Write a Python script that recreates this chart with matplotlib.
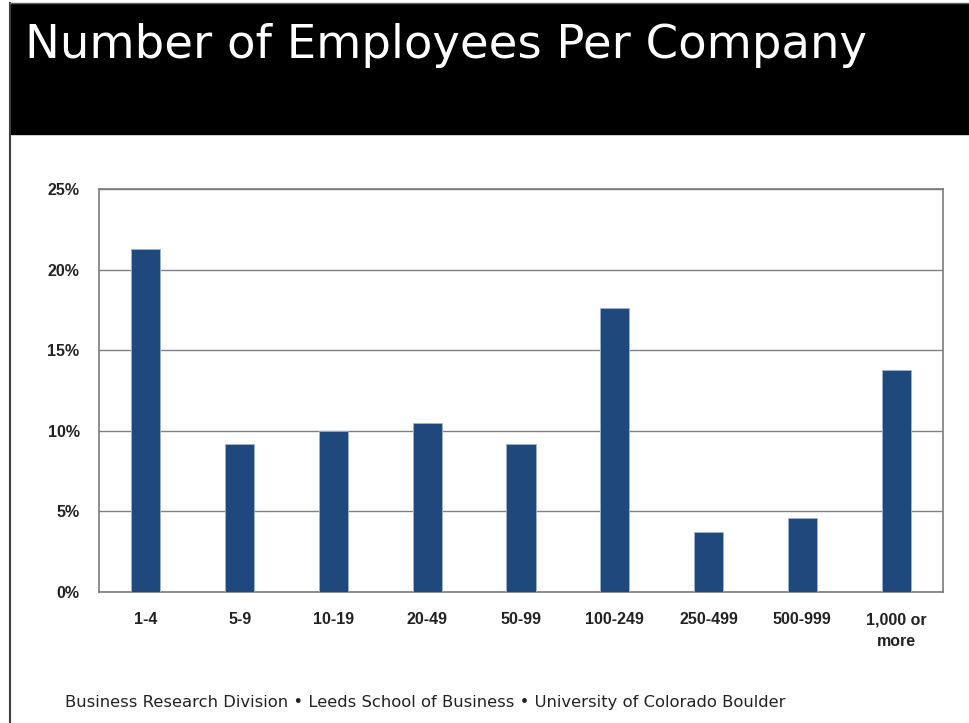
import matplotlib
matplotlib.use('Agg')
from matplotlib import pyplot as plt
from matplotlib.patches import Rectangle
from matplotlib.lines import Line2D
from matplotlib.ticker import PercentFormatter

# data
categories = ['1-4', '5-9', '10-19', '20-49', '50-99', '100-249',
              '250-499', '500-999', '1,000 or\nmore']
shares = [21.3, 9.2, 10.0, 10.5, 9.2, 17.6, 3.7, 4.6, 13.8]
yticks = [0, 5, 10, 15, 20, 25]

title = 'Number of Employees Per Company'
footer = ('Business Research Division \u2022 Leeds School of Business '
          '\u2022 University of Colorado Boulder')

W, H = 970, 723
fig = plt.figure(figsize=(W / 100, H / 100), dpi=100)

# black title band and thin page border on the left / top
fig.patches.append(Rectangle((11 / W, 1 - 134 / H), 1, 130 / H,
                             transform=fig.transFigure, color='black'))
fig.lines.append(Line2D([10 / W, 10 / W], [0, 1 - 3 / H],
                        transform=fig.transFigure, color='#404040', lw=1.5))
fig.lines.append(Line2D([10 / W, 1], [1 - 3 / H, 1 - 3 / H],
                        transform=fig.transFigure, color='#606060', lw=1))
fig.text(25 / W, 1 - 46 / H, title, color='white', fontsize=33.5,
         va='center', ha='left', family='DejaVu Sans')

ax = fig.add_axes([99 / W, 1 - 592 / H, (943 - 99) / W, (592 - 189) / H])
x = range(len(categories))
ax.bar(x, shares, width=0.31, color='#1F497D', edgecolor='#9DB3D0',
       linewidth=0.6, zorder=3)
ax.set_xlim(-0.5, len(categories) - 0.5)
ax.set_ylim(0, 25)
ax.set_yticks(yticks)
ax.yaxis.set_major_formatter(PercentFormatter(decimals=0))
ax.set_xticks(list(x))
ax.set_xticklabels(categories)
ax.grid(axis='y', color='#808080', lw=1, zorder=0)
for s in ax.spines.values():
    s.set_color('#7a7a7a')
    s.set_linewidth(1.2)
ax.tick_params(axis='x', length=0, pad=14.5, labelsize=11.5)
ax.tick_params(axis='y', length=0, pad=14, labelsize=11.5)
for lab in ax.get_xticklabels() + ax.get_yticklabels():
    lab.set_family(['Liberation Sans Narrow', 'Liberation Sans'])
    lab.set_fontweight('bold')
    lab.set_color('#222222')
for lab in ax.get_xticklabels():
    lab.set_linespacing(1.6)
    lab.set_verticalalignment('top')

fig.text(65 / W, 1 - 703 / H, footer, fontsize=11.8, va='center',
         ha='left', color='#222222', family='DejaVu Sans')

fig.savefig('out.png', dpi=100)
